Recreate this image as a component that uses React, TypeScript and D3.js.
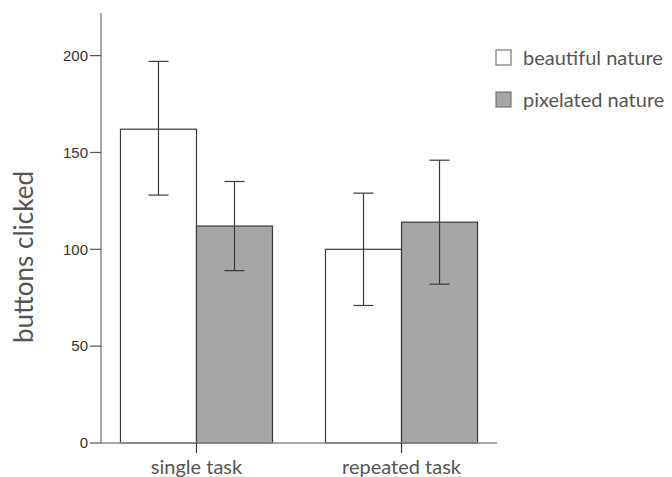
import * as d3 from "d3";
import React from "react";

const categories = ["single task", "repeated task"];
const series = ["beautiful nature", "pixelated nature"];
const means = [
  [162, 100], // beautiful nature
  [112, 114], // pixelated nature
];
const errHigh = [
  [197, 129],
  [135, 146],
];
const errLow = [
  [128, 71],
  [89, 82],
];
const yTicks = [0, 50, 100, 150, 200];

const width = 672;
const height = 477;
const fills = ["#ffffff", "#a6a6a6"];
const labelFont = "Lato, 'Open Sans', sans-serif";

export default function App() {
  // Scales
  const y = d3.scaleLinear().domain([0, 222]).range([443, 13]);
  const x0 = d3
    .scaleBand()
    .domain(categories)
    .range([101, 497])
    .paddingInner(0.2585)
    .paddingOuter(0.095);
  const x1 = d3.scaleBand().domain(series).range([0, x0.bandwidth()]);

  const bars = categories.flatMap((c, ci) =>
    series.map((s, si) => ({
      c,
      s,
      si,
      v: means[si][ci],
      hi: errHigh[si][ci],
      lo: errLow[si][ci],
    })),
  );

  return (
    <svg
      width={width}
      height={height}
      viewBox={`0 0 ${width} ${height}`}
      style={{ position: "absolute", left: 0, top: 0, background: "#fff" }}
    >
      {/* bars */}
      {bars.map((d) => {
        const bx = x0(d.c) + x1(d.s);
        return (
          <rect
            key={d.c + d.s}
            x={bx}
            y={y(d.v)}
            width={x1.bandwidth()}
            height={y(0) - y(d.v)}
            fill={fills[d.si]}
            stroke="#3a3a3a"
            strokeWidth={1.2}
          />
        );
      })}

      {/* error bars */}
      {bars.map((d) => {
        const cx = x0(d.c) + x1(d.s) + x1.bandwidth() / 2;
        return (
          <g key={"e" + d.c + d.s} stroke="#3a3a3a" strokeWidth={1.2}>
            <line x1={cx} x2={cx} y1={y(d.hi)} y2={y(d.lo)} />
            <line x1={cx - 10} x2={cx + 10} y1={y(d.hi)} y2={y(d.hi)} />
            <line x1={cx - 10} x2={cx + 10} y1={y(d.lo)} y2={y(d.lo)} />
          </g>
        );
      })}

      {/* y axis */}
      <line x1={101} x2={101} y1={y.range()[1]} y2={y(0)} stroke="#8a8a8a" strokeWidth={1.5} />
      {yTicks.map((t) => (
        <g key={t} transform={`translate(0,${y(t)})`}>
          <line x1={90} x2={101} stroke="#555" strokeWidth={1.2} />
          <text
            x={88}
            dy="0.35em"
            textAnchor="end"
            fontFamily="'Liberation Sans', Arial, sans-serif"
            fontSize={15}
            fill="#333"
          >
            {t}
          </text>
        </g>
      ))}

      {/* x axis */}
      <line x1={101} x2={x0.range()[1]} y1={y(0)} y2={y(0)} stroke="#8a8a8a" strokeWidth={1.5} />
      {categories.map((c) => {
        const cx = x0(c) + x0.bandwidth() / 2;
        return (
          <g key={c}>
            <line x1={cx} x2={cx} y1={y(0)} y2={y(0) + 10} stroke="#3a3a3a" strokeWidth={1.2} />
            <text
              x={cx}
              y={474}
              textAnchor="middle"
              fontFamily={labelFont}
              fontSize={20}
              fill="#555"
            >
              {c}
            </text>
          </g>
        );
      })}

      {/* y label */}
      <text
        transform="translate(33,257) rotate(-90)"
        textAnchor="middle"
        fontFamily={labelFont}
        fontSize={26}
        fill="#555"
      >
        buttons clicked
      </text>

      {/* legend */}
      {series.map((s, i) => (
        <g key={s} transform={`translate(496,${50 + i * 42})`}>
          <rect x={0} y={0} width={15} height={15} fill={fills[i]} stroke="#777" strokeWidth={1.2} />
          <text x={27} y={15} fontFamily={labelFont} fontSize={20} fill="#555">
            {s}
          </text>
        </g>
      ))}
    </svg>
  );
}
